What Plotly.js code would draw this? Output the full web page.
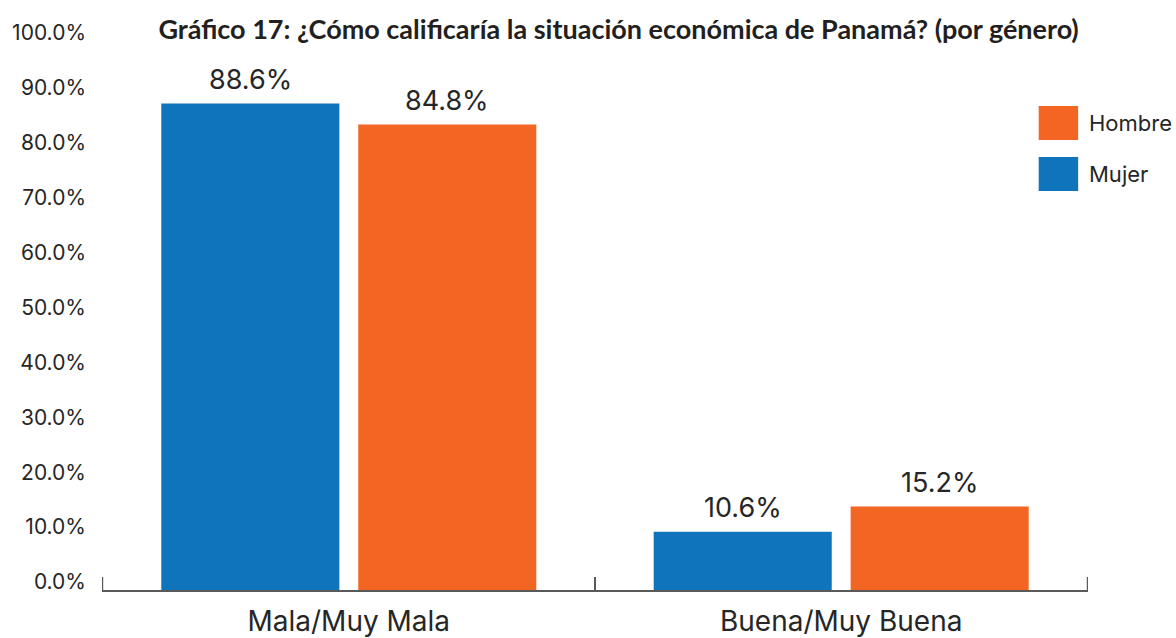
<!DOCTYPE html>
<html>
<head>
<meta charset="utf-8">
<script src="https://cdn.plot.ly/plotly-3.0.1.min.js"></script>
<style>html,body{margin:0;padding:0;background:#fff;}#chart{width:1176px;height:638px;}</style>
</head>
<body>
<div id="chart"></div>
<script>
var categories = ['Mala/Muy Mala', 'Buena/Muy Buena'];
var seriesNames = ['Mujer', 'Hombre'];
var mujerValues = [88.6, 10.6];
var hombreValues = [84.8, 15.2];
var seriesColors = ['#1074bc', '#f26522'];
var yTickValues = [0, 10, 20, 30, 40, 50, 60, 70, 80, 90, 100];
var yTickLabels = ['0.0%', '10.0%', '20.0%', '30.0%', '40.0%', '50.0%', '60.0%', '70.0%', '80.0%', '90.0%', '100.0%'];
var titleText = 'Gráfico 17: ¿Cómo calificaría la situación económica de Panamá? (por género)';

var textColor = '#262626';
var axisColor = '#595959';
var bargap = 0.2, bargroupgap = 0.096;
var seriesValues = [mujerValues, hombreValues];

var traces = seriesValues.map(function (vals, i) {
  return {
    type: 'bar', x: categories, y: vals, name: seriesNames[i],
    marker: {color: seriesColors[i]}, hoverinfo: 'x+y+name'
  };
});

// data labels above bars (offset derived from grouped-bar layout)
var slot = (1 - bargap) / seriesValues.length;
var annotations = [];
seriesValues.forEach(function (vals, i) {
  var off = -((1 - bargap) / 2) + slot * (i + 0.5);
  vals.forEach(function (v, j) {
    annotations.push({
      x: j + off, y: v, xref: 'x', yref: 'y', text: v.toFixed(1) + '%',
      showarrow: false, yanchor: 'middle', yshift: 24,
      font: {family: 'Inter, sans-serif', size: 27, color: textColor}
    });
  });
});

var shapes = [];
// category-boundary ticks at both ends of the x axis
[-0.5, categories.length - 0.5].forEach(function (bx) {
  shapes.push({type: 'line', xref: 'x', yref: 'paper', x0: bx, x1: bx,
    ysizemode: 'pixel', yanchor: 0, y0: 0, y1: 13,
    line: {color: axisColor, width: 1.2}});
});

// legend (Hombre on top, Mujer below)
var legendOrder = [1, 0];
legendOrder.forEach(function (si, k) {
  var top = 0.8816 - k * 0.093, bottom = top - 0.062;
  shapes.push({type: 'rect', xref: 'paper', yref: 'paper', x0: 0.950, x1: 0.990,
    y0: bottom, y1: top, fillcolor: seriesColors[si], line: {width: 0}});
  annotations.push({xref: 'paper', yref: 'paper', x: 0.999, y: (top + bottom) / 2,
    xanchor: 'left', yanchor: 'middle', showarrow: false, text: seriesNames[si],
    font: {family: 'Inter, sans-serif', size: 22, color: textColor}});
});

var layout = {
  width: 1176, height: 638,
  margin: {l: 102, r: 88, t: 41, b: 48},
  paper_bgcolor: '#fff', plot_bgcolor: '#fff',
  barmode: 'group', bargap: bargap, bargroupgap: bargroupgap,
  showlegend: false,
  title: {
    text: '<b>' + titleText + '</b>',
    font: {family: 'Lato, sans-serif', size: 27, color: '#231f20'},
    x: 0.526, xref: 'container', xanchor: 'center',
    y: 0.953, yref: 'container', yanchor: 'middle'
  },
  xaxis: {
    type: 'category', showgrid: false, zeroline: false,
    showline: true, linecolor: axisColor, linewidth: 1.5,
    ticks: 'inside', tickson: 'boundaries', ticklen: 13, tickwidth: 1.2, tickcolor: axisColor,
    ticklabelstandoff: 6,
    tickfont: {family: 'Inter, sans-serif', size: 28, color: textColor},
    fixedrange: true
  },
  yaxis: {
    range: [0, 100], tickmode: 'array', tickvals: yTickValues, ticktext: yTickLabels,
    showgrid: false, zeroline: false, showline: false, ticks: '',
    ticklabelshift: -8, ticklabelstandoff: 15,
    tickfont: {family: 'Inter, sans-serif', size: 21, color: textColor},
    fixedrange: true
  },
  annotations: annotations,
  shapes: shapes
};

Plotly.newPlot('chart', traces, layout, {displayModeBar: false, staticPlot: true});
</script>
</body>
</html>
